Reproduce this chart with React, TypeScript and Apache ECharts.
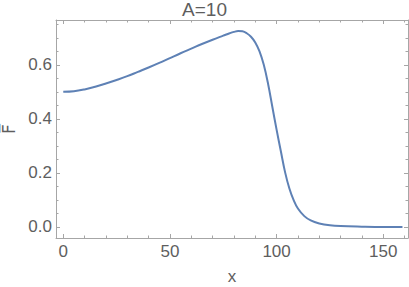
import React, { useEffect, useRef } from "react";
import * as echarts from "echarts";

const titleText = "A=10";
const xName = "x";
const yName = "F\u0305";
const xs = [0, 5, 10, 15, 20, 25, 30, 35, 40, 45, 50, 55, 60, 65, 70, 75, 78, 80, 82, 84, 86, 88, 90, 92, 94, 96, 98, 100, 102, 104, 106, 108, 110, 113, 116, 120, 125, 130, 140, 150, 159];
const ys = [0.500, 0.502, 0.509, 0.519, 0.531, 0.544, 0.558, 0.574, 0.590, 0.607, 0.625, 0.643, 0.660, 0.677, 0.693, 0.708, 0.717, 0.722, 0.725, 0.724, 0.717, 0.704, 0.683, 0.650, 0.600, 0.530, 0.445, 0.360, 0.280, 0.202, 0.142, 0.099, 0.068, 0.040, 0.024, 0.013, 0.006, 0.003, 0.001, 0.000, 0.000];
const xMajor = [0, 50, 100, 150];
const xMinor = [10, 20, 30, 40, 60, 70, 80, 90, 110, 120, 130, 140, 160];
const yMajor = [0, 0.2, 0.4, 0.6];
const yMinor = [-0.05, 0.05, 0.1, 0.15, 0.25, 0.3, 0.35, 0.45, 0.5, 0.55, 0.65, 0.7, 0.75];

export default function App() {
  const ref = useRef<HTMLDivElement>(null);
  useEffect(() => {
    if (!ref.current) return;
    const chart = echarts.init(ref.current, undefined, { renderer: "svg" });
    const frame = "#a6a6a6";
    const txt = "#5e5e5e";
    const font = "Liberation Sans";
    const xMin = -3.4, xMax = 161.6, yMin = -0.041, yMax = 0.766;
    const mkX = (pos: string, vals: number[], len: number, labels: boolean, line: boolean, name?: string): any => ({
      type: "value", position: pos, min: xMin, max: xMax,
      name: name, nameLocation: "middle", nameGap: 30,
      nameTextStyle: { color: txt, fontSize: 17, fontFamily: font },
      axisLine: { show: line, onZero: false, lineStyle: { color: frame, width: 1 } },
      axisTick: { show: true, inside: true, length: len, customValues: vals, lineStyle: { color: frame } },
      axisLabel: { show: labels, customValues: vals, color: txt, fontSize: 17, fontFamily: font, margin: 5 },
      splitLine: { show: false },
    });
    const mkY = (pos: string, vals: number[], len: number, labels: boolean, line: boolean, name?: string): any => ({
      type: "value", position: pos, min: yMin, max: yMax,
      name: name, nameLocation: "middle", nameGap: 37, nameRotate: 90,
      nameTextStyle: { color: txt, fontSize: 17, fontFamily: "DejaVu Sans" },
      axisLine: { show: line, onZero: false, lineStyle: { color: frame, width: 1 } },
      axisTick: { show: true, inside: true, length: len, customValues: vals, lineStyle: { color: frame } },
      axisLabel: { show: labels, customValues: vals, color: txt, fontSize: 17, fontFamily: font, margin: 4, formatter: (v: number) => v.toFixed(1) },
      splitLine: { show: false },
    });
    chart.setOption({
      animation: false,
      title: { text: titleText, left: "center", top: 0, padding: 0, textStyle: { color: txt, fontSize: 19, fontWeight: "normal", fontFamily: font, lineHeight: 19 } },
      grid: { left: 56, right: 1, top: 20, bottom: 49, containLabel: false, outerBoundsMode: "none" },
      xAxis: [
        mkX("bottom", xMajor, 4, true, true, xName),
        mkX("bottom", xMinor, 2.5, false, false),
        mkX("top", xMajor, 4, false, true),
        mkX("top", xMinor, 2.5, false, false),
      ],
      yAxis: [
        mkY("left", yMajor, 4, true, true, yName),
        mkY("left", yMinor, 2.5, false, false),
        mkY("right", yMajor, 4, false, true),
        mkY("right", yMinor, 2.5, false, false),
      ],
      series: [
        {
          type: "line", xAxisIndex: 0, yAxisIndex: 0, showSymbol: false, smooth: 0.4,
          lineStyle: { color: "#5e81b5", width: 2 },
          data: xs.map((x, i) => [x, ys[i]]),
        },
      ],
    });
    return () => chart.dispose();
  }, []);
  return <div ref={ref} style={{ width: 409, height: 287, position: "absolute", left: 0, top: 0 }} />;
}
